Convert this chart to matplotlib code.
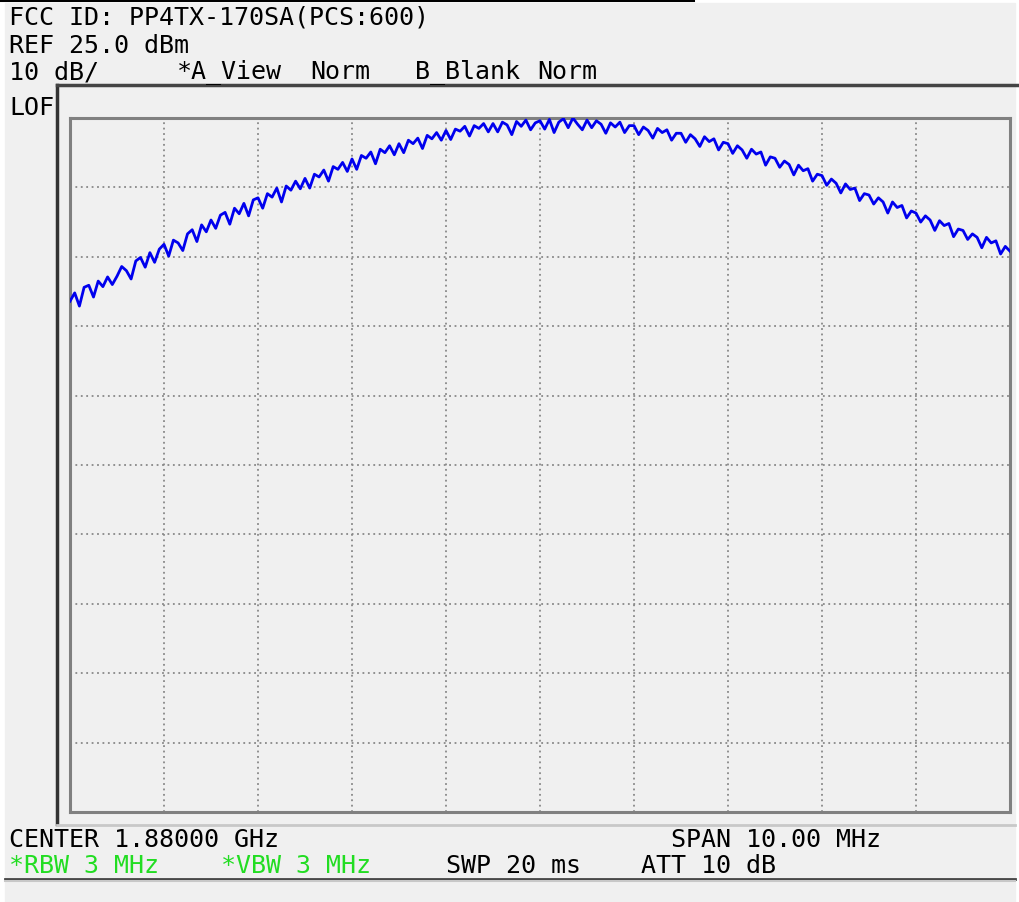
import matplotlib
matplotlib.use("Agg")
import matplotlib.pyplot as plt
import numpy as np

# ---- data ----
center_mhz = 1880.0
span_mhz = 10.0
ref_dbm = 25.0
db_per_div = 10.0
n_div = 10

trace_dbm = [
    -1.4, -0.2, -2.1, 0.6, 0.9, -0.8, 1.5, 0.7, 2.1, 1.0,
    2.2, 3.6, 3.0, 1.8, 4.4, 4.9, 3.5, 5.6, 4.2, 6.1,
    6.8, 5.1, 7.4, 7.0, 5.9, 8.3, 8.9, 7.2, 9.6, 8.6,
    10.3, 9.1, 11.0, 11.4, 9.7, 12.0, 11.2, 12.7, 10.9, 13.2,
    13.5, 12.0, 14.1, 13.6, 14.9, 12.9, 15.2, 14.6, 15.9, 14.8,
    16.3, 14.9, 16.9, 16.5, 17.5, 15.9, 18.0, 17.6, 18.6, 17.3,
    19.1, 17.6, 19.6, 19.2, 20.1, 18.4, 20.5, 20.0, 21.0, 19.7,
    21.3, 20.0, 21.8, 21.3, 22.1, 20.6, 22.5, 22.0, 22.9, 21.8,
    23.2, 21.9, 23.4, 23.1, 23.8, 22.4, 23.9, 23.5, 24.2, 23.0,
    24.2, 23.0, 24.4, 24.0, 22.6, 24.5, 23.8, 24.7, 23.3, 24.3,
    24.6, 23.4, 24.8, 22.9, 24.4, 24.9, 23.6, 25.0, 24.1, 23.3,
    24.7, 23.6, 24.6, 24.1, 22.8, 24.3, 23.7, 24.4, 22.9, 23.9,
    23.9, 22.6, 23.7, 23.2, 22.1, 23.5, 22.9, 23.3, 21.8, 22.8,
    22.8, 21.5, 22.6, 22.0, 20.9, 22.3, 21.6, 22.0, 20.4, 21.5,
    21.3, 19.9, 21.0, 20.4, 19.2, 20.5, 19.8, 20.1, 18.2, 19.4,
    19.2, 17.9, 18.8, 18.3, 16.8, 18.2, 17.4, 17.7, 15.9, 16.9,
    16.7, 15.3, 16.2, 15.6, 14.2, 15.5, 14.7, 14.9, 13.1, 14.1,
    13.9, 12.6, 13.5, 12.9, 11.3, 12.9, 12.1, 12.4, 10.6, 11.6,
    11.3, 10.0, 10.9, 10.3, 8.8, 10.2, 9.5, 9.8, 7.9, 9.0,
    8.8, 7.5, 8.3, 7.8, 6.3, 7.8, 7.0, 7.3, 5.4, 6.5,
    5.8,
]

header_lines = ["FCC ID: PP4TX-170SA(PCS:600)", "REF 25.0 dBm"]
status_items = ["10 dB/", "*A_View", "Norm", "B_Blank", "Norm"]
footer_black = ["CENTER 1.88000 GHz", "SPAN 10.00 MHz", "SWP 20 ms", "ATT 10 dB"]
footer_green = ["*RBW 3 MHz", "*VBW 3 MHz"]

# ---- figure ----
W, H = 1019, 903
fig = plt.figure(figsize=(W / 100, H / 100), dpi=100)
fig.patch.set_facecolor("white")

# overlay axes in pixel coordinates
ov = fig.add_axes([0, 0, 1, 1])
ov.set_xlim(0, W)
ov.set_ylim(H, 0)
ov.axis("off")
ov.add_patch(plt.Rectangle((5, 4), 1010, 899, color="#f0f0f0", zorder=0))
ov.plot([0, 693], [1, 1], color="black", lw=2.2, zorder=2)
ov.plot([57, 57], [86, 825], color="#333333", lw=2.5, zorder=2)
ov.plot([57, W], [86, 86], color="#444444", lw=2.5, zorder=2)
ov.plot([57, 1015], [826, 826], color="#c8c8c8", lw=2, zorder=2)
ov.plot([5, 1015], [880, 880], color="#444444", lw=2, zorder=2)
ov.plot([5, 1015], [882.5, 882.5], color="#c8c8c8", lw=1.5, zorder=2)

font = dict(family="DejaVu Sans Mono", fontsize=18, va="center", ha="left")
ov.text(9, 17, header_lines[0], color="black", **font)
ov.text(9, 46, header_lines[1], color="black", **font)
for x, s in zip([9, 177, 310, 415, 537], status_items):
    ov.text(x, 72, s, color="black", **font)
ov.text(9, 108, "LOF", color="black", **font)
for x, y, s in zip([9, 671, 446, 641], [840, 840, 866, 866], footer_black):
    ov.text(x, y, s, color="black", **font)
for x, s in zip([9, 221], footer_green):
    ov.text(x, 866, s, color="#22dd22", **font)

# main plot axes
L, R, T, B = 70, 1010, 119, 813
ax = fig.add_axes([L / W, (H - B) / H, (R - L) / W, (B - T) / H])
ax.set_facecolor("#f0f0f0")
f0 = center_mhz - span_mhz / 2
f1 = center_mhz + span_mhz / 2
y_top = ref_dbm
y_bot = ref_dbm - db_per_div * n_div
ax.set_xlim(f0, f1)
ax.set_ylim(y_bot, y_top)
freqs = np.linspace(f0, f1, len(trace_dbm))
ax.plot(freqs, trace_dbm, color="#0000ee", lw=2.0, zorder=3, clip_on=True)
ax.set_xticks(np.linspace(f0, f1, n_div + 1))
ax.set_yticks(np.linspace(y_bot, y_top, n_div + 1))
ax.grid(True, color="#888888", linestyle=(0, (1, 2)), lw=1.3)
ax.tick_params(length=0, labelbottom=False, labelleft=False)
for sp in ax.spines.values():
    sp.set_color("#808080")
    sp.set_linewidth(2.2)

fig.savefig("out.png", dpi=100, facecolor=fig.get_facecolor())
